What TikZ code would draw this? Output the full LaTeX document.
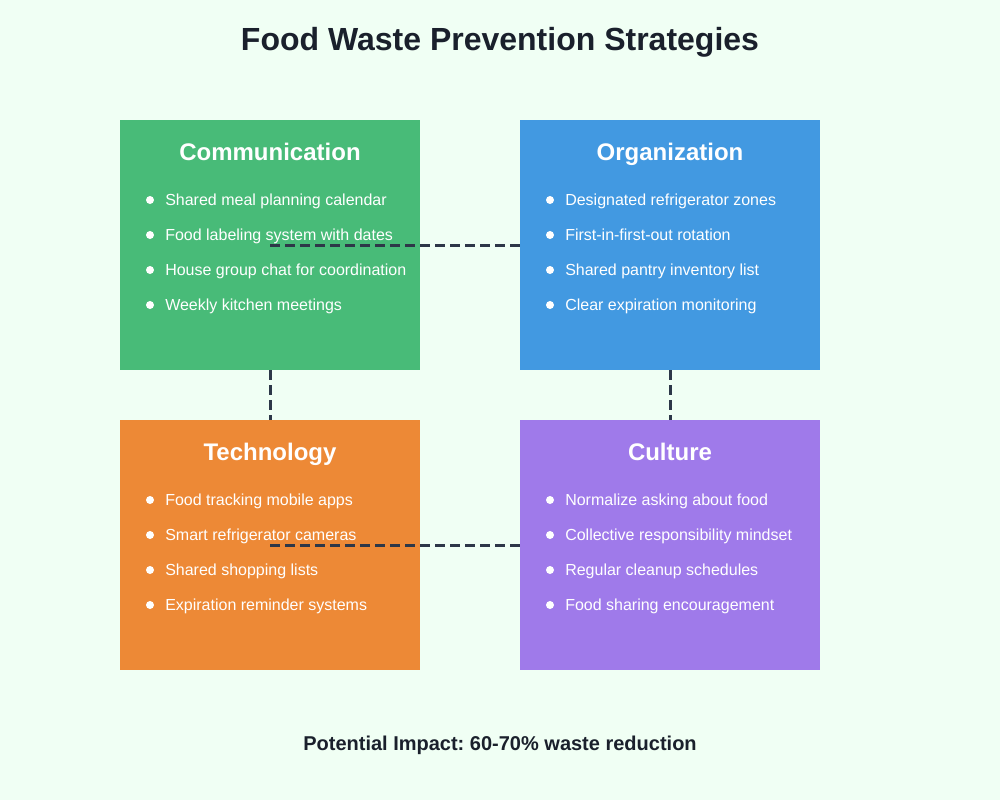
\documentclass[tikz,border=0pt]{standalone}
\usepackage{fontspec}
\setmainfont{Liberation Sans}
\frenchspacing
\definecolor{bgmint}{HTML}{F0FFF4}
\definecolor{inkdark}{HTML}{1A202C}
\definecolor{linkgray}{HTML}{2D3748}
\definecolor{commgreen}{HTML}{48BB78}
\definecolor{orgblue}{HTML}{4299E1}
\definecolor{techorange}{HTML}{ED8936}
\definecolor{cultpurple}{HTML}{9F7AEA}
\tikzset{
	box/.style={minimum width=225pt, minimum height=187.5pt, inner sep=0pt, draw=none},
	boxtitle/.style={anchor=base, text=white, font=\fontsize{18}{20}\selectfont\bfseries, inner sep=0pt},
	item/.style={anchor=base west, text=white, font=\fontsize{12}{14}\selectfont, inner sep=0pt},
	link/.style={draw=linkgray, line width=2.25pt, dash pattern=on 7.5pt off 3.75pt}
}
\begin{document}
\begin{tikzpicture}[x=0.75pt,y=-0.75pt]
	\fill [bgmint] (0, 0) rectangle (1000, 800);
	\useasboundingbox (0, 0) rectangle (1000, 800);

	\node [anchor=base, text=inkdark, font=\fontsize{24}{28}\selectfont\bfseries] (title) at (500, 50.5) {Food Waste Prevention Strategies};

	% the four boxes
	\node [box, fill=commgreen] (comm) at (270, 245) {};
	\draw [link] (comm.center) -- (670, 245) coordinate (orgmid);
	\node [box, fill=orgblue] (org) at (670, 245) {};
	\node [box, fill=techorange] (tech) at (270, 545) {};
	\draw [link] (tech.center) -- (670, 545) coordinate (cultmid);
	\node [box, fill=cultpurple] (cult) at (670, 545) {};

	\draw [link] (comm.south) -- (tech.north);
	\draw [link] (org.south) -- (cult.north);

	% Communication
	\node [boxtitle] (commtitle) at (270, 160) {Communication};
	\fill [white] (150, 200) circle (3pt);
	\node [item] (comma) at (165, 205.5) {Shared meal planning calendar};
	\fill [white] (150, 235) circle (3pt);
	\node [item] (commb) at (165, 240.5) {Food labeling system with dates};
	\fill [white] (150, 270) circle (3pt);
	\node [item] (commc) at (165, 275.5) {House group chat for coordination};
	\fill [white] (150, 305) circle (3pt);
	\node [item] (commd) at (165, 310.5) {Weekly kitchen meetings};

	% Organization
	\node [boxtitle] (orgtitle) at (670, 160) {Organization};
	\fill [white] (550, 200) circle (3pt);
	\node [item] (orga) at (565, 205.5) {Designated refrigerator zones};
	\fill [white] (550, 235) circle (3pt);
	\node [item] (orgb) at (565, 240.5) {First-in-first-out rotation};
	\fill [white] (550, 270) circle (3pt);
	\node [item] (orgc) at (565, 275.5) {Shared pantry inventory list};
	\fill [white] (550, 305) circle (3pt);
	\node [item] (orgd) at (565, 310.5) {Clear expiration monitoring};

	% Technology
	\node [boxtitle] (techtitle) at (270, 460) {Technology};
	\fill [white] (150, 500) circle (3pt);
	\node [item] (techa) at (165, 505.5) {Food tracking mobile apps};
	\fill [white] (150, 535) circle (3pt);
	\node [item] (techb) at (165, 540.5) {Smart refrigerator cameras};
	\fill [white] (150, 570) circle (3pt);
	\node [item] (techc) at (165, 575.5) {Shared shopping lists};
	\fill [white] (150, 605) circle (3pt);
	\node [item] (techd) at (165, 610.5) {Expiration reminder systems};

	% Culture
	\node [boxtitle] (culttitle) at (670, 460) {Culture};
	\fill [white] (550, 500) circle (3pt);
	\node [item] (culta) at (565, 505.5) {Normalize asking about food};
	\fill [white] (550, 535) circle (3pt);
	\node [item] (cultb) at (565, 540.5) {Collective responsibility mindset};
	\fill [white] (550, 570) circle (3pt);
	\node [item] (cultc) at (565, 575.5) {Regular cleanup schedules};
	\fill [white] (550, 605) circle (3pt);
	\node [item] (cultd) at (565, 610.5) {Food sharing encouragement};

	\node [anchor=base, text=inkdark, font=\fontsize{15}{18}\selectfont\bfseries] (impact) at (500, 750) {Potential Impact: 60-70\% waste reduction};
\end{tikzpicture}
\end{document}
